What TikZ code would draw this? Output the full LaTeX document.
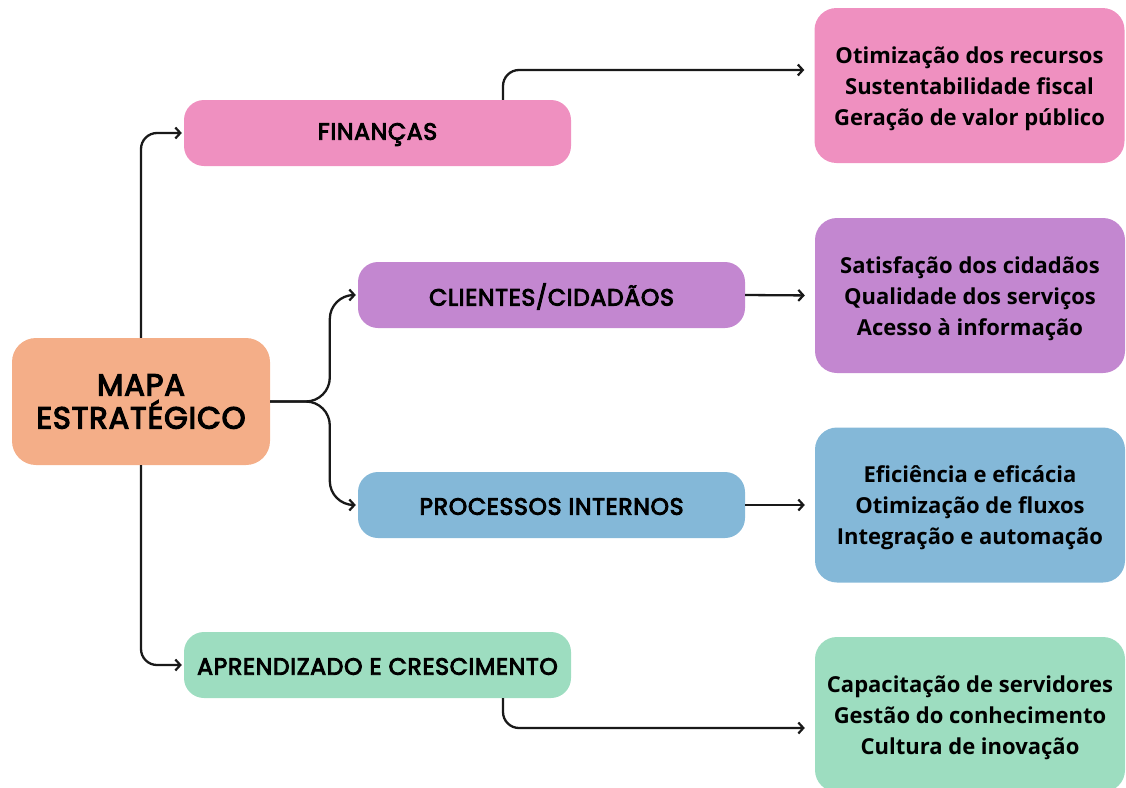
\documentclass[tikz,border=0pt]{standalone}
\usepackage{fontspec}
\newfontfamily\popf{Poppins}[FakeBold=4,LetterSpace=3]
\newfontfamily\opf{Open Sans}
\usetikzlibrary{arrows.meta}
\definecolor{corange}{HTML}{F4AE88}
\definecolor{cpink}{HTML}{EF90C0}
\definecolor{cpurple}{HTML}{C387D0}
\definecolor{cblue}{HTML}{84B8D8}
\definecolor{cgreen}{HTML}{9DDDC0}
\begin{document}
\begin{tikzpicture}[x=1pt,y=-1pt,
  lbox/.style={rounded corners=20pt, inner sep=0pt, minimum width=387pt, minimum height=66pt, text=black},
  ltext/.style={inner sep=0pt, font=\popf\fontsize{23.5}{27}\selectfont, text=black},
  rbox/.style={rounded corners=22pt, inner sep=0pt, minimum width=310pt, minimum height=155pt},
  rtext/.style={inner sep=0pt, align=center, font=\opf\bfseries\fontsize{22}{31}\selectfont, text=black},
  conn/.style={line width=2.3pt, draw=black!90, rounded corners=16pt, -{Straight Barb[length=5pt,width=11pt,line width=2.2pt]}}]
\useasboundingbox (0,0) rectangle (1126,787);
\clip (0,0) rectangle (1126,787);
\node[rounded corners=24pt, fill=corange, minimum width=258pt, minimum height=127pt, inner sep=0pt, align=center, font=\popf\fontsize{30.5}{33}\selectfont] (mapa) at (141,401.5) {MAPA\\ESTRATÉGICO};
\node[lbox, fill=cpink] (fin) at (377.5,133) {};
\node[lbox, fill=cpurple] (cli) at (551.5,295) {};
\node[lbox, fill=cblue] (pro) at (551.5,505) {};
\node[lbox, fill=cgreen] (apr) at (377.5,665) {};
\node[ltext] (tfin) at ([yshift=-1.5pt]fin.center) {FINANÇAS};
\node[ltext] (tcli) at ([yshift=-1.5pt]cli.center) {CLIENTES/CIDADÃOS};
\node[ltext] (tpro) at ([yshift=-1.5pt]pro.center) {PROCESSOS INTERNOS};
\node[ltext] (tapr) at ([yshift=-1.5pt]apr.center) {APRENDIZADO E CRESCIMENTO};
\node[rbox, fill=cpink] (r1) at (969.5,85.5) {};
\node[rbox, fill=cpurple] (r2) at (970,295.5) {};
\node[rbox, fill=cblue] (r3) at (970,505) {};
\node[rbox, fill=cgreen] (r4) at (970,714.5) {};
\node[rtext] (t1) at ([yshift=-3pt]r1.center) {Otimização dos recursos\\Sustentabilidade fiscal\\Geração de valor público};
\node[rtext] (t2) at ([yshift=-3pt]r2.center) {Satisfação dos cidadãos\\Qualidade dos serviços\\Acesso à informação};
\node[rtext] (t3) at ([yshift=-3pt]r3.center) {Eficiência e eficácia\\Otimização de fluxos\\Integração e automação};
\node[rtext] (t4) at ([yshift=-3pt]r4.center) {Capacitação de servidores\\Gestão do conhecimento\\Cultura de inovação};
\draw[conn, shorten >=2pt] (mapa.north) |- (fin.west);
\draw[conn, shorten >=2pt] (mapa.south) |- (apr.west);
\draw[conn, rounded corners=24pt, shorten >=2pt] (mapa.east) -| ([xshift=-28pt]cli.west) -- (cli.west);
\draw[conn, rounded corners=24pt, shorten >=2pt] (mapa.east) -| ([xshift=-28pt]pro.west) -- (pro.west);
\draw[conn, shorten >=10pt] ([xshift=125.5pt]fin.north) |- ([yshift=15.5pt]r1.west);
\draw[conn, shorten >=10pt] (cli.east) -- (r2.west);
\draw[conn, shorten >=10pt] (pro.east) -- (r3.west);
\draw[conn, shorten >=10pt] ([xshift=125.5pt]apr.south) |- ([yshift=-13.5pt]r4.west);
\end{tikzpicture}
\end{document}
